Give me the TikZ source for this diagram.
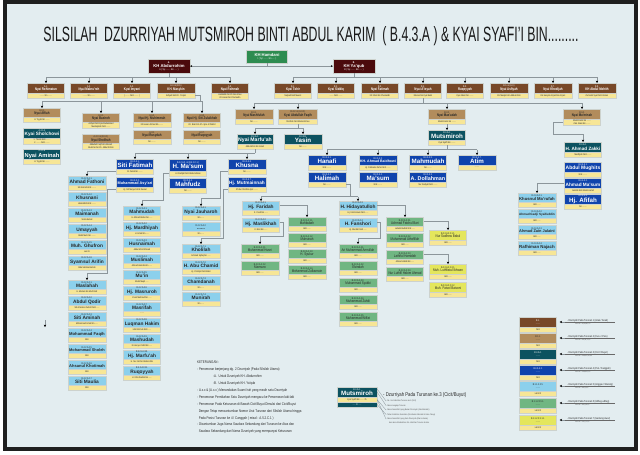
\documentclass[tikz,border=0pt]{standalone}
\usepackage{fontspec}
\usepackage{graphicx}
\setmainfont{Liberation Sans}
\newfontfamily\nar[FakeStretch=0.78]{Liberation Sans}
\usetikzlibrary{arrows.meta}
\definecolor{bgc}{RGB}{227,237,240}
\definecolor{cHam}{RGB}{46,140,80}
\definecolor{cTop}{RGB}{75,10,12}
\definecolor{cOne}{RGB}{120,72,40}
\definecolor{cTwo}{RGB}{178,140,92}
\definecolor{cThree}{RGB}{12,82,96}
\definecolor{cFour}{RGB}{16,68,172}
\definecolor{cFive}{RGB}{140,208,236}
\definecolor{cSix}{RGB}{112,182,130}
\definecolor{cSeven}{RGB}{228,230,92}
\definecolor{cYel}{RGB}{247,230,150}
\definecolor{cLine}{RGB}{140,150,155}
\definecolor{cEdge}{RGB}{205,210,205}
\definecolor{cTxt}{RGB}{40,40,40}
\newsavebox\fitbox
\newdimen\fitw
\newcommand\fitname[2]{\fitw=#1pt\advance\fitw by -2.4pt\sbox\fitbox{#2}\ifdim\wd\fitbox>\fitw\resizebox{\fitw}{!}{\usebox\fitbox}\else\usebox\fitbox\fi}
\newcommand\nfgone{\fontsize{3.7}{4.2}\selectfont\bfseries}
\newcommand\nfgtwo{\fontsize{3.7}{4.2}\selectfont\bfseries}
\newcommand\nfgthree{\normalfont\fontsize{6.2}{6.8}\selectfont\bfseries}
\newcommand\nfgfour{\normalfont\fontsize{6.2}{6.8}\selectfont\bfseries}
\newcommand\nfgfive{\normalfont\fontsize{4.8}{5.2}\selectfont\bfseries}
\newcommand\nfgsix{\fontsize{3.8}{4.2}\selectfont}
\newcommand\nfgseven{\fontsize{3.8}{4.2}\selectfont}
\newcommand\dotsname{{\nar\mdseries\fontsize{2.6}{3}\selectfont ........}}
\tikzset{
 box/.style={draw=cEdge, line width=0.3pt, inner sep=0.4pt, align=center, anchor=north, font=\nar\fontsize{2.6}{3}\selectfont},
 gtop/.style={box, fill=cTop, text=white},
 gone/.style={box, fill=cOne, text=white},
 gtwo/.style={box, fill=cTwo, text=cTxt},
 gthree/.style={box, fill=cThree, text=white},
 gfour/.style={box, fill=cFour, text=white},
 gfive/.style={box, fill=cFive, text=cTxt},
 gsix/.style={box, fill=cSix, text=cTxt},
 gseven/.style={box, fill=cSeven, text=cTxt},
 ybar/.style={box, fill=cYel, text=cTxt, font=\nar\fontsize{2.4}{2.8}\selectfont, minimum height=4.5pt},
 conn/.style={draw=cLine, line width=0.7pt},
 arr/.style={-{Stealth[length=2.4pt,width=2.4pt,color=black]}},
 thinl/.style={draw=cLine, line width=0.3pt},
 legtxt/.style={anchor=base west, inner sep=0pt, text=cTxt, font=\nar\fontsize{2.8}{3}\selectfont},
 legsub/.style={anchor=north west, inner sep=0pt, text=cTxt!80, font=\nar\fontsize{2.2}{2.6}\selectfont}
}
\newcommand\person[9]{%
 \node[#5, minimum width=#4pt, minimum height=#9pt] (#1) at (#2,#3) {#6\\\fitname{#4}{\csname nf#5\endcsname #7}};
 \node[ybar, minimum width=#4pt] (#1y) at (#1.south) {#8};}
\newcommand\legrow[8]{%
 \person{lg#1}{538}{#2}{37}{#3}{#4}{#5}{#6}{10}
 \coordinate (ul#1) at (565,#2+5);
 \node[legtxt] (lt#1) at (567,#2+4) {#7};
 \node[legsub] (lc#1) at (575,#2+5.8) {#8};
 \draw[line width=0.3pt, cTxt!70] (ul#1) -- ++(50,0);
 \draw[conn, arr, line width=0.5pt, shorten >=3pt] (ul#1) -- (ul#1 -| lg#1.east);}
\begin{document}
\begin{tikzpicture}[x=1pt,y=-1pt]
\useasboundingbox (0,0) rectangle (640,455);
\fill[white] (0,0) rectangle (640,455);
\fill[black!88] (3,0) rectangle (638,451);
\fill[bgc] (7,4) rectangle (634,447);

% title
\node[anchor=base, inner sep=0pt, text=black!90] (title) at (311,41) {\resizebox{535pt}{15pt}{SILSILAH\ \ DZURRIYAH MUTSMIROH BINTI ABDUL KARIM\ \ ( B.4.3.A ) \& KYAI SYAFI'I BIN.........}};

% top
\node[box, fill=cHam, text=white, minimum width=41pt, minimum height=13pt] (ham) at (267,50) {{\normalfont\bfseries\fontsize{4.2}{4.8}\selectfont KH Hamdani}\\I ( Syi ........ bin ..... )};
\node[gtop, minimum width=42pt, minimum height=14pt] (A) at (169,59) {{\bfseries A.}\\{\normalfont\bfseries\fontsize{4.2}{4.8}\selectfont KH Abdurrohim}\\A ( Syi ........ bin ..... )};
\node[gtop, minimum width=42pt, minimum height=14pt] (B) at (354,59) {{\bfseries B.}\\{\normalfont\bfseries\fontsize{4.2}{4.8}\selectfont KH Ya'qub}\\B ( Syi ........ bin ..... )};
\draw[conn, {Stealth[length=2pt,width=2pt,color=black]}-{Stealth[length=2pt,width=2pt,color=black]}] (A.east) -- (B.west);
\draw[conn] (ham.south) -- (ham.south |- A.east);

% generation 1
\person{a1}{46}{83}{37}{gone}{A.1.}{Nyai Rohimatun}{........ bin ........}{10}
\person{a2}{89}{83}{37}{gone}{A.2.}{Nyai Mabru'roh}{........ bin ........}{10}
\person{a3}{132}{83}{37}{gone}{A.3.}{Kyai Imyani}{( ........ binti ........ )}{10}
\person{a4}{176}{83}{38}{gone}{A.4. \& (B.6.)}{KH. Masykin}{Asfiyah binti Kh. Ya'qub}{10}
\person{a5}{230}{83}{37}{gone}{A.5.}{Nyai Rohmah}{Hasbullah bin Kh Nur Aman\\Kh Hasan bin Chumaidin}{10}
\person{b1}{293}{83}{37}{gone}{B.1.}{Kyai Tohir}{Najmah binti Muarni}{10}
\person{b2}{336}{83}{37}{gone}{B.2.}{Kyai Siddiq}{........ binti ........}{10}
\person{b3}{380}{83}{37}{gone}{B.3.}{Nyai Fatimah}{Kh Khoiri bin Chumaidin}{10}
\person{b4}{423}{83}{37}{gone}{B.4.}{Nyai A'isyah}{Mansur bin Kyai Bakri}{10}
\person{b5}{465}{83}{37}{gone}{B.5.}{Ruqoyyah}{Kyai Jaberi bin ........}{10}
\person{b6}{509}{83}{38}{gone}{B.6. \& (A.4.)}{Nyai Asfiyah}{KH Masykin bin Abdurrohim}{10}
\person{b7}{553}{83}{38}{gone}{B.7.}{Nyai Khodijah}{KH Hasyim Asy'ari bin Asy'ari}{10}
\person{b8}{597}{83}{38}{gone}{B.8.}{KH Abdul Mohith}{Zumrotul Syari binti Usman}{10}
\draw[conn] (A.south) -- ++(0,4) coordinate (abus);
\draw[conn] (abus -| a1.north) -- (abus -| a5.north);
\foreach \n in {a1,a2,a3,a4,a5}{\draw[conn,arr] (abus -| \n.north) -- (\n.north);}
\draw[conn] (B.south) -- ++(0,4) coordinate (bbus);
\draw[conn] (bbus -| b1.north) -- (bbus -| b8.north);
\foreach \n in {b1,b2,b3,b4,b5,b6,b7,b8}{\draw[conn,arr] (bbus -| \n.north) -- (\n.north);}

% generation 2 (A.4)
\person{a41}{42}{108}{37}{gtwo}{A.4.1.}{Nyai Affiah}{H. Toyyib bin ........}{9}
\person{a42}{101}{113}{37}{gtwo}{A.4.2.}{Nyai Basiroh}{Asfiyah binti Kyai Muhammad\\Mustaqimah binti ........}{9}
\person{a43}{101}{134}{37}{gtwo}{A.4.3. \& (B.4.2.)}{Nyai Sholihah}{Abdullah Faqih bin Marsah\\Muslimin bin Kh. Abdul Rohim}{9}
\person{a44}{152}{113}{38}{gtwo}{A.4.4.}{Nyai Hj. Muhimmah}{Kh Hasan Ahmad bin ........}{9}
\person{a45}{152}{130}{38}{gtwo}{A.4.5.}{Nyai Rusydah}{bin ........}{9}
\person{a46}{202}{113}{37}{gtwo}{A.4.6.}{Nyai Hj. Siti Zulaikhah}{Kh. Bakri bin Kh. Ilyas Al Wahid}{9}
\person{a47}{202}{130}{37}{gtwo}{A.4.7.}{Nyai Ruqoyyah}{bin ........}{9}
\draw[conn] (a4y.east) -- ++(5,0) |- ([yshift=7pt]a41.north) coordinate (a4bus);
\draw[conn] (a4bus) -- (a4bus -| a46.north);
\foreach \n in {a41,a42,a44,a46}{\draw[conn,arr] (a4bus -| \n.north) -- (\n.north);}
\person{a41a}{42}{128}{37}{gthree}{A.4.1.A}{Kyai Sholchowi}{1. Tianah binti ........\\2. ........ binti ........}{10}
\person{a41b}{42}{149}{37}{gthree}{A.4.1.B}{Nyai Aminah}{H. Toyyib bin ........}{10}

% generation 2 (B.4)
\person{b41}{254}{109}{38}{gtwo}{B.4.1.}{Nyai Mashfufah}{bin ........}{10}
\person{b42}{298}{109}{39}{gtwo}{B.4.2. \& (A.4.3.)}{Kyai Abdullah Faqih}{Sholihah binti Abdurrohman}{10}
\person{b43}{447}{109}{37}{gtwo}{B.4.3.}{Nyai Mas'adah}{Abdul Karim bin ........}{10}
\person{b44}{582}{109}{37}{gtwo}{B.4.4.}{Nyai Mu'minah}{Abdul Karim bin ........\\Zain Jalani bin ........}{10}
\draw[conn] (b4y.south) -- ++(0,5) coordinate (b4bus);
\draw[conn] (b4bus -| b41.north) -- (b4bus -| b44.north);
\foreach \n in {b41,b42,b43,b44}{\draw[conn,arr] (b4bus -| \n.north) -- (\n.north);}

% generation 3
\person{b42a}{255}{134}{36}{gthree}{B.4.2.A.}{Nyai Marfu'ah}{Abdul Mu'in bin Ismail}{10}
\person{b42b}{303}{134}{38}{gthree}{B.4.2.B.}{Yasin}{bin ........}{10}
\person{b43a}{447}{130}{37}{gthree}{B.4.3.A.}{Mutsmiroh}{Kyai Syafi'i bin ........}{10}
\person{b44a}{583}{142}{37}{gthree}{B.4.4.A.}{H. Ahmad Zakki}{Mardliyah binti ........}{10}
\draw[conn] (b42y.south) -- ++(0,4) coordinate (b42bus);
\draw[conn] (b42bus -| b42a.north) -- (b42bus -| b42b.north);
\foreach \n in {b42a,b42b}{\draw[conn,arr] (b42bus -| \n.north) -- (\n.north);}
\draw[conn,arr] (b43y.south) -- (b43a.north);
\draw[conn,arr] (b44y.west) -- ++(-10,0) -- ++(0,12) -| (b44a.north);

% generation 4
\person{b44a1}{583}{162}{37}{gfour}{B.4.4.A.1.}{Abdul Mughits}{binti ........}{10}
\person{b44a2}{583}{178}{37}{gfour}{B.4.4.A.2.}{Ahmad Ma'sum}{Jamilah binti Abdul Hamid}{10}
\person{b44a3}{583}{194}{37}{gfour}{B.4.4.A.3.}{Hj. Afifah}{bin ........}{10}

\person{m1}{327}{155}{38}{gfour}{B.4.3.A.1.}{Hanafi}{binti ........}{10}
\person{m2}{327}{172}{38}{gfour}{B.4.3.A.2.}{Halimah}{bin ........}{10}
\person{m3}{378}{155}{38}{gfour}{B.4.3.A.3.}{KH. Ahmad Baidhowi}{Hj. Fatimatus Zahro binti ........}{10}
\person{m4}{378}{172}{38}{gfour}{B.4.3.A.4.}{Ma'sum}{binti ........}{10}
\person{m5}{428}{155}{37}{gfour}{B.4.3.A.5.}{Mahmudah}{bin ........}{10}
\person{m6}{428}{172}{37}{gfour}{B.4.3.A.6.}{A. Dollahman}{Nur Sadiyah binti ........}{10}
\person{m7}{477}{155}{38}{gfour}{B.4.3.A.7.}{Atim}{........}{10}
\draw[conn] (b43ay.south) -- ++(0,4.5) coordinate (mbus);
\draw[conn] (mbus -| m1.north) -- (mbus -| m7.north);
\foreach \n in {m1,m3,m5,m7}{\draw[conn,arr] (mbus -| \n.north) -- (\n.north);}

\person{f1}{135}{159}{37}{gfour}{B.4.2.A.1.}{Siti Fatimah}{M. Zainal bin ........}{10}
\person{f2}{135}{177}{37}{gfour}{B.4.2.A.2.}{Muhammad Asy'ari}{Hj. Siti Maryam binti Zaenal}{10}
\person{f3}{188}{159}{37}{gfour}{B.4.2.A.3. \& (B.4.2.C.1.)}{H. Ma'sum}{H. Khadijah binti Abdurrohman}{12}
\person{f4}{188}{178}{37}{gfour}{B.4.2.A.4.}{Mahfudz}{bin ........}{10}
\person{f6}{247}{159}{38}{gfour}{B.4.2.A.6.}{Khusna}{bin ........}{10}
\person{f7}{247}{177}{38}{gfour}{B.4.2.A.7.}{Hj. Mutmainnah}{Kh Nur Sholihin Apsi ........}{10}
\draw[conn] (b42ay.south) -- ++(0,4) coordinate (fbus);
\draw[conn] (fbus) -- (fbus -| f1.north);
\foreach \n in {f1,f3,f6}{\draw[conn,arr] (fbus -| \n.north) -- (\n.north);}

% generation 5 (B.4.2.A)
\person{f1c1}{87}{176}{38}{gfive}{B.4.2.A.1.1.}{Ahmad Fathoni}{Siti Aminah binti ........}{9}
\person{f1c2}{87}{192}{38}{gfive}{B.4.2.A.1.2.}{Khusnani}{Hamidullah binti ........}{9}
\person{f1c3}{87}{208}{38}{gfive}{B.4.2.A.1.3.}{Maimanah}{Sidun Berkat}{9}
\person{f1c4}{87}{224}{38}{gfive}{B.4.2.A.1.4.}{Umayyah}{Abdul Mu'in bin ........}{9}
\person{f1c5}{87}{240}{38}{gfive}{B.4.2.A.1.5.}{Muh. Ghufron}{Leni N.}{9}
\person{f1c6}{87}{256}{38}{gfive}{B.4.2.A.1.6.}{Syamsul Arifin}{Alda Sabrina Barkah}{9}
\draw[conn,arr] (f1y.west) -| (f1c1.north);

\person{f2c1}{87}{280}{38}{gfive}{B.4.2.A.2.1.}{Maslahah}{H. Mustain bin Machfudz}{9}
\person{f2c2}{87}{296}{38}{gfive}{B.4.2.A.2.2.}{Abdul Qodir}{Siti Aminatus Zuhroh binti ......}{9}
\person{f2c3}{87}{312}{38}{gfive}{B.4.2.A.2.3.}{Siti Aminah}{Mohammad Ismail bin ......}{9}
\person{f2c4}{87}{328}{38}{gfive}{B.4.2.A.2.4.}{Mohammad Faqih}{lahir}{9}
\person{f2c5}{87}{344}{38}{gfive}{B.4.2.A.2.5.}{Mohammad Sholeh}{lahir}{9}
\person{f2c6}{87}{360}{38}{gfive}{B.4.2.A.2.6.}{Ahsanul Khotimah}{lahir}{9}
\person{f2c7}{87}{376}{38}{gfive}{B.4.2.A.2.7.}{Siti Maulia}{lahir}{9}
\draw[conn,arr] (f2y.west) -- ++(-9,0) |- ([yshift=7pt]f2c1.north) -- (f2c1.north);

\person{f3c1}{142}{206}{37}{gfive}{B.4.2.A.3.1.}{Mahmudah}{H. Ahmad Abdan bin ......}{9}
\person{f3c2}{142}{222}{37}{gfive}{B.4.2.A.3.2.}{Hj. Mardhiyah}{H. Ismail bin ......}{9}
\person{f3c3}{142}{238}{37}{gfive}{B.4.2.A.3.3.}{Husnaimah}{Abdul Mu'id Ahmad}{9}
\person{f3c4}{142}{254}{37}{gfive}{B.4.2.A.3.4.}{Muslimah}{Ahmad Hamdan bin ......}{9}
\person{f3c5}{142}{270}{37}{gfive}{B.4.2.A.3.5.}{Mu'in}{Abdul Muqit ......}{9}
\person{f3c6}{142}{286}{37}{gfive}{B.4.2.A.3.6.}{Hj. Masruroh}{Imam Mahmud bin ......}{9}
\person{f3c7}{142}{302}{37}{gfive}{B.4.2.A.3.7.}{Masrifah}{........}{9}
\person{f3c8}{142}{318}{37}{gfive}{B.4.2.A.3.8.}{Luqman Hakim}{Lilik Rohmah binti ......}{9}
\person{f3c9}{142}{334}{37}{gfive}{B.4.2.A.3.9.}{Mashudah}{M. Hunyon Safril bin ......}{9}
\person{f3c10}{142}{350}{37}{gfive}{B.4.2.A.3.10.}{Hj. Marfu'ah}{H. Nur Jati bin Abdurrohim}{9}
\person{f3c11}{142}{366}{37}{gfive}{B.4.2.A.3.11.}{Ruqoyyah}{H. Irfan Ibrahim bin ......}{9}
\draw[conn,arr] (f3y.west) -- ++(-6,0) |- ([yshift=6pt]f3c1.north) -- (f3c1.north);

\person{f6c1}{201}{206}{38}{gfive}{B.4.2.A.6.1.}{Nyai Jauharoh}{bin ......}{9}
\person{f6c2}{201}{222}{38}{gfive}{B.4.2.A.6.2.}{......}{bin ......}{9}
\draw[conn,arr] (f6y.west) -- ++(-8,0) |- ([yshift=8pt]f6c1.north) -- (f6c1.north);

\person{f7c1}{201}{244}{38}{gfive}{B.4.2.A.7.1.}{Kholilah}{Achmad Syifaq bin ......}{9}
\person{f7c2}{201}{260}{38}{gfive}{B.4.2.A.7.2.}{H. Abu Chamid}{Hj. Choirijah binti Bakri}{9}
\person{f7c3}{201}{276}{38}{gfive}{B.4.2.A.7.3.}{Chamdanah}{bin ......}{9}
\person{f7c4}{201}{292}{38}{gfive}{B.4.2.A.7.4.}{Munirah}{bin ......}{9}
\draw[conn,arr] (f7y.west) -- ++(-5,0) |- ([yshift=6pt]f7c1.north) -- (f7c1.north);

% generation 5 (B.4.3.A.2)
\person{h1}{261}{201}{37}{gfive}{B.4.3.A.2.1.}{Hj. Faridah}{K. Yusuf bin ......}{9}
\person{h2}{261}{218}{37}{gfive}{B.4.3.A.2.2.}{Hj. Maslikhah}{K. Bisri bin ......}{9}
\person{h3}{358}{201}{38}{gfive}{B.4.3.A.2.3.}{H. Hidayatulloh}{Hj. Umi Kulsum binti ......}{9}
\person{h4}{358}{218}{38}{gfive}{B.4.3.A.2.4.}{H. Fanshori}{Hj. Muntiah binti ......}{9}
\draw[conn] (m2y.east) -- ++(4,0) -- ++(0,12) coordinate (hbus);
\draw[conn] (hbus -| h1.north) -- (hbus -| h3.north);
\foreach \n in {h1,h3}{\draw[conn,arr] (hbus -| \n.north) -- (\n.north);}

% generation 6
\person{h1c1}{307}{217}{38}{gsix}{B.4.3.A.2.1.1.}{Mahbubah}{lahir ......}{9}
\person{h1c2}{307}{233}{38}{gsix}{B.4.3.A.2.1.2.}{Muhsinah}{lahir ......}{9}
\person{h1c3}{307}{249}{38}{gsix}{B.4.3.A.2.1.3.}{H. Syukur}{lahir ......}{9}
\person{h1c4}{307}{265}{38}{gsix}{B.4.3.A.2.1.4.}{Mohammad Zulkarnain}{lahir ......}{9}
\draw[conn,arr] (h1.east) -| (h1c1.north);
\person{h2c1}{260}{244}{38}{gsix}{B.4.3.A.2.2.1.}{Muhammad Husni}{lahir ......}{9}
\person{h2c2}{260}{261}{38}{gsix}{B.4.3.A.2.2.2.}{Maesuro}{lahir ......}{9}
\draw[conn,arr] (h2.east) -- ++(4,0) |- ([yshift=8pt]h2c1.north) -- (h2c1.north);
\person{h3c1}{405}{217}{37}{gsix}{B.4.3.A.2.3.1.}{Achmad Fatchul Bari}{Lailatul Budiati binti ......}{9}
\person{h3c2}{405}{233}{37}{gsix}{B.4.3.A.2.3.2.}{Muhammad Athofillah}{lahir ......}{9}
\person{h3c3}{405}{250}{37}{gsix}{B.4.3.A.2.3.3.}{Lathiful Hamidah}{Ahmad Habibi bin ......}{9}
\person{h3c4}{405}{267}{37}{gsix}{B.4.3.A.2.3.4.}{Nur Luthfil Hakim Ahmad}{lahir ......}{9}
\draw[conn,arr] (h3.east) -| (h3c1.north);
\person{h4c1}{358}{244}{38}{gsix}{B.4.3.A.2.4.1.}{Ari Muhammad Amrullah}{lahir ......}{9}
\person{h4c2}{358}{261}{38}{gsix}{B.4.3.A.2.4.2.}{Elvindah}{lahir ......}{9}
\person{h4c3}{358}{278}{38}{gsix}{B.4.3.A.2.4.3.}{Muhammad Syubki}{lahir ......}{9}
\person{h4c4}{358}{295}{38}{gsix}{B.4.3.A.2.4.4.}{Muhammad Zuhdi}{lahir ......}{9}
\person{h4c5}{358}{312}{38}{gsix}{B.4.3.A.2.4.5.}{Muhammad Wiffat}{lahir ......}{9}
\draw[conn,arr] (h4.east) -- ++(3,0) |- ([yshift=6pt]h4c1.north) -- (h4c1.north);

% generation 7
\person{g1}{448}{230}{37}{gseven}{B.4.3.A.2.3.1.1.}{Nur Sadhow Babul}{lahir ......}{10}
\draw[conn,arr] (h3c1.east) -| (g1.north);
\person{g2}{448}{264}{37}{gseven}{B.4.3.A.2.3.3.1.}{Muh. Luthfiatul Ikhwan}{lahir ......}{10}
\person{g3}{448}{282}{37}{gseven}{B.4.3.A.2.3.3.2.}{Muh. Faisol Baisoni}{lahir ......}{10}
\draw[conn,arr] (h3c3.east) -| (g2.north);

% generation 5 (B.4.4.A.2)
\person{z1}{537}{193}{38}{gfive}{B.4.4.A.2.1.}{Khusnul Ma'rufah}{lahir ......}{9}
\person{z2}{537}{209}{38}{gfive}{B.4.4.A.2.2.}{Ahmad Gadji Syaifuddin}{lahir ......}{9}
\person{z3}{537}{225}{38}{gfive}{B.4.4.A.2.3.}{Ahmad Zain Jalaini}{lahir ......}{9}
\person{z4}{537}{241}{38}{gfive}{B.4.4.A.2.4.}{Rafhiman Najach}{lahir ......}{9}
\draw[conn,arr] (b44a2.west) -| (z1.north);

% small stray arrow
\coordinate (ta) at (45,320);
\coordinate (tb) at (45,327);
\draw[thinl,arr] (ta) -- (tb);

% keterangan
\node[anchor=north west, inner sep=0pt, align=left, text=cTxt, font=\nar\fontsize{3.8}{6.9}\selectfont] (ket) at (197,361) {KETERANGAN :\\
- Penomoran berjenjang dg. 2 Dzurriyah (Pada Silsilah Utama)\\
\hspace*{16pt}-A.\ \ Untuk Dzurriyah KH. Abdurrohim\\
\hspace*{16pt}-B.\ \ Untuk Dzurriyah KH. Ya'qub\\
- A.x.x \& (A.x.x ) Menandakan Suami Istri yang masih satu Dzurriyah\\
- Penomoran Pernikahan Satu Dzurriyah mengacu ke Penomoran laki-laki\\
- Penomoran Pada Keturunan di Bawah Cicit/Buyut Dimulai dari Cicit/Buyut\\
\ \ Dengan Tetap mencantumkan Nomor Urut Turunan dari Silsilah Utama hingga\\
\ \ Pada Posisi Turunan ke 4 / Canggah ( misal : A.5.2.C.1 )\\
- Dicantumkan Juga Nama Saudara Sekandung dari Turunan ke Atas dan\\
\ \ Saudara Sekandung dari Nama Dzurriyah yang mempunyai Keturunan};

% middle legend
\person{lm}{357}{387}{40}{gthree}{B.4.3.A.}{Mutsmiroh}{Kyai Syafi'i bin ........ th}{10}
\node[gthree, minimum width=40pt, minimum height=4.5pt, font=\nar\fontsize{2.4}{2.8}\selectfont] (lmb) at (lmy.south) {...... th ......};
\node[anchor=base west, inner sep=0pt, text=cTxt, font=\nar\fontsize{5.5}{6}\selectfont] (lmt) at (383,396) {- Dzurriyah Pada Turunan ke.3 (Cicit/Buyut)};
\node[legsub, anchor=west] (ls1) at (386,401) {- No. Urut Identitas Turunan ke.3 (Cicit)};
\node[legsub, anchor=west] (ls2) at (386,405.5) {- Nama Lengkap Turunan};
\node[legsub, anchor=west] (ls3) at (386,410) {- Nama Suami/Istri yang Bukan Dzurriyah (Jika Menikah)};
\node[legsub, anchor=west] (ls4) at (386,414.5) {- Tahun Kelahiran Kematian (Jika Belum Menikah \& Usia Cukup)};
\node[legsub, anchor=west] (ls5) at (386,419) {- Nama Suami/Istri yang Satu Dzurriyah (Warna Sama)};
\node[legsub, anchor=west] (ls6) at (389,423) {dan akan ditambahkan No. Identitas Turunan di atas};
\draw[thinl] ([yshift=-2pt]lm.north east) -- (ls1.west);
\draw[thinl] (lm.east) -- (ls2.west);
\draw[thinl] (lmy.east) -- (ls3.west);
\draw[thinl] (lmb.east) -- (ls4.west);
\draw[thinl] (lmy.east) -- (ls5.west);

% right legend
\legrow{1}{317}{gone}{B.1.}{\dotsname}{binti}{- Dzurriyah Pada Turunan 1 (Anak / Anak)}{CMYK = 0,60,80,70}
\legrow{2}{333}{gtwo}{B.1.1.}{\dotsname}{binti}{- Dzurriyah Pada Turunan 2 (Cucu / Putu)}{CMYK = 30,45,70,0}
\legrow{3}{349}{gthree}{B.4.3.A.}{\dotsname}{binti}{- Dzurriyah Pada Turunan 3 (Cicit / Buyut)}{CMYK = 100,40,40,40}
\legrow{4}{365}{gfour}{B.4.3.A.2.}{\dotsname}{binti}{- Dzurriyah Pada Turunan 4 (Piut / Canggah)}{CMYK = 100,80,0,0}
\legrow{5}{381}{gfive}{B.1.1.2.3.5.}{\dotsname}{Lahir th}{- Dzurriyah Pada Turunan 5 (Anggas / Wareng)}{CMYK = 45,0,5,0}
\legrow{6}{398}{gsix}{B.1.1.2.3.5.1.}{\dotsname}{Lahir th}{- Dzurriyah Pada Turunan 6 (Udheg-udheg)}{CMYK = 50,0,50,0}
\legrow{7}{415}{gseven}{B.1.1.2.3.5.1.1.}{\dotsname}{Lahir th}{- Dzurriyah Pada Turunan 7 (Gantung siwur)}{CMYK = 10,0,70,0}
\end{tikzpicture}
\end{document}
